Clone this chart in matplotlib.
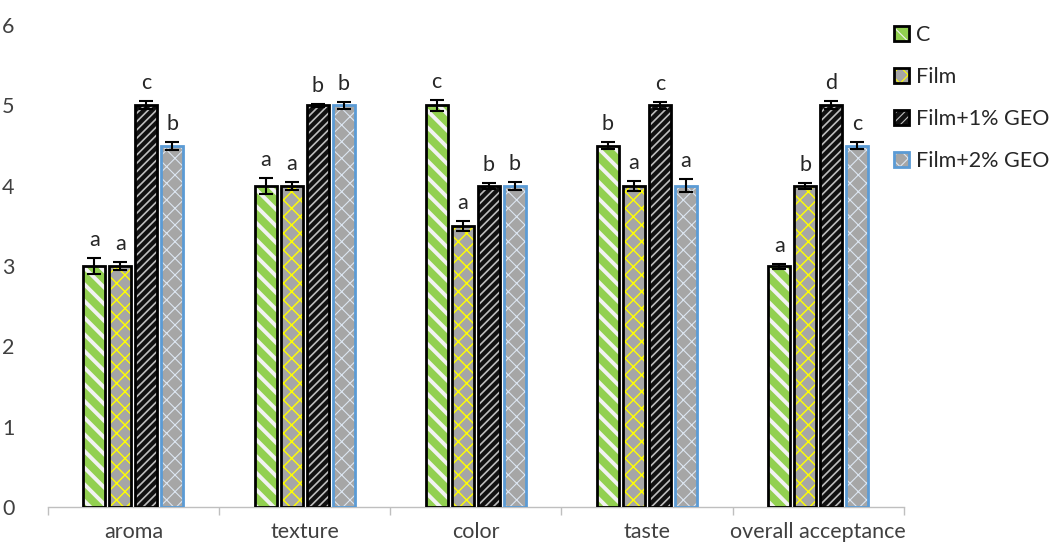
import matplotlib
matplotlib.use("Agg")
import matplotlib.pyplot as plt
from matplotlib.patches import Patch
from matplotlib.legend_handler import HandlerTuple
import numpy as np

categories = ["aroma", "texture", "color", "taste", "overall acceptance"]
series = ["C", "Film", "Film+1% GEO", "Film+2% GEO"]
values = {
    "C":           [3.0, 4.0, 5.0, 4.5, 3.0],
    "Film":        [3.0, 4.0, 3.5, 4.0, 4.0],
    "Film+1% GEO": [5.0, 5.0, 4.0, 5.0, 5.0],
    "Film+2% GEO": [4.5, 5.0, 4.0, 4.0, 4.5],
}
errors = {
    "C":           [0.10, 0.10, 0.07, 0.04, 0.03],
    "Film":        [0.05, 0.05, 0.06, 0.06, 0.04],
    "Film+1% GEO": [0.05, 0.02, 0.04, 0.04, 0.05],
    "Film+2% GEO": [0.05, 0.04, 0.05, 0.08, 0.04],
}
letters = {
    "C":           ["a", "a", "c", "b", "a"],
    "Film":        ["a", "a", "a", "a", "b"],
    "Film+1% GEO": ["c", "b", "b", "c", "d"],
    "Film+2% GEO": ["b", "b", "b", "a", "c"],
}

styles = {
    "C":           dict(face="#92D050", hatch="\\\\", hcol="#F2F2F2", edge="black", hlw=2.8),
    "Film":        dict(face="#A6A6A6", hatch="xx", hcol="#FFFF00", edge="black", hlw=1.0),
    "Film+1% GEO": dict(face="#111111", hatch="////", hcol="#BFBFBF", edge="black", hlw=1.2),
    "Film+2% GEO": dict(face="#A6A6A6", hatch="xx", hcol="#DCE6F2", edge="#5B9BD5", hlw=0.8),
}

plt.rcParams["font.family"] = ["Lato", "DejaVu Sans"]
FS = 15.5

fig = plt.figure(figsize=(10.62, 5.47), dpi=100)
ax = fig.add_axes([0.045, 0.073, 0.806, 0.881])

x = np.arange(len(categories))
step = 0.152
width = 0.128
handles = []
for i, s in enumerate(series):
    st = styles[s]
    pos = x + (i - 1.5) * step
    plt.rcParams["hatch.linewidth"] = st["hlw"]
    ax.bar(pos, values[s], width, color=st["face"], hatch=st["hatch"],
           edgecolor=st["hcol"], linewidth=0, zorder=2)
    ax.bar(pos, values[s], width, facecolor="none", edgecolor=st["edge"],
           linewidth=2, zorder=3)
    h1 = Patch(facecolor=st["face"], edgecolor=st["hcol"], hatch=st["hatch"],
               linewidth=0)
    h2 = Patch(facecolor="none", edgecolor=st["edge"], linewidth=2)
    handles.append((h1, h2))
    ax.errorbar(pos, values[s], yerr=errors[s], fmt="none", ecolor="black",
                elinewidth=1.5, capsize=5, capthick=1.5, zorder=4)
    for p, v, e, l in zip(pos, values[s], errors[s], letters[s]):
        ax.text(p, v + e + 0.1, l, ha="center", va="bottom", fontsize=FS,
                color="#262626")

ax.set_xlim(-0.5, len(categories) - 0.5)
ax.set_ylim(0, 6)
ax.set_yticks(np.arange(0, 7, 1))
ax.tick_params(axis="y", length=0, labelsize=FS, labelcolor="#404040", pad=24)
ax.set_xticks(np.arange(-0.5, len(categories), 1))
ax.set_xticklabels([])
ax.tick_params(axis="x", which="major", length=6, color="#BFBFBF", width=1)
ax.set_xticks(x, minor=True)
ax.set_xticklabels(categories, minor=True)
ax.tick_params(axis="x", which="minor", length=0, labelsize=FS,
               labelcolor="#404040", pad=11)
for sp in ["top", "right", "left"]:
    ax.spines[sp].set_visible(False)
ax.spines["bottom"].set_color("#BFBFBF")
ax.spines["bottom"].set_linewidth(1)

leg = ax.legend(handles=handles, labels=series, loc="upper left",
                bbox_to_anchor=(0.966, 1.04),
                handler_map={tuple: HandlerTuple(ndivide=1)},
                frameon=False, fontsize=FS, labelspacing=1.02,
                handlelength=0.7, handleheight=0.7, handletextpad=0.3,
                labelcolor="#262626")

fig.savefig("out.png", dpi=100)
